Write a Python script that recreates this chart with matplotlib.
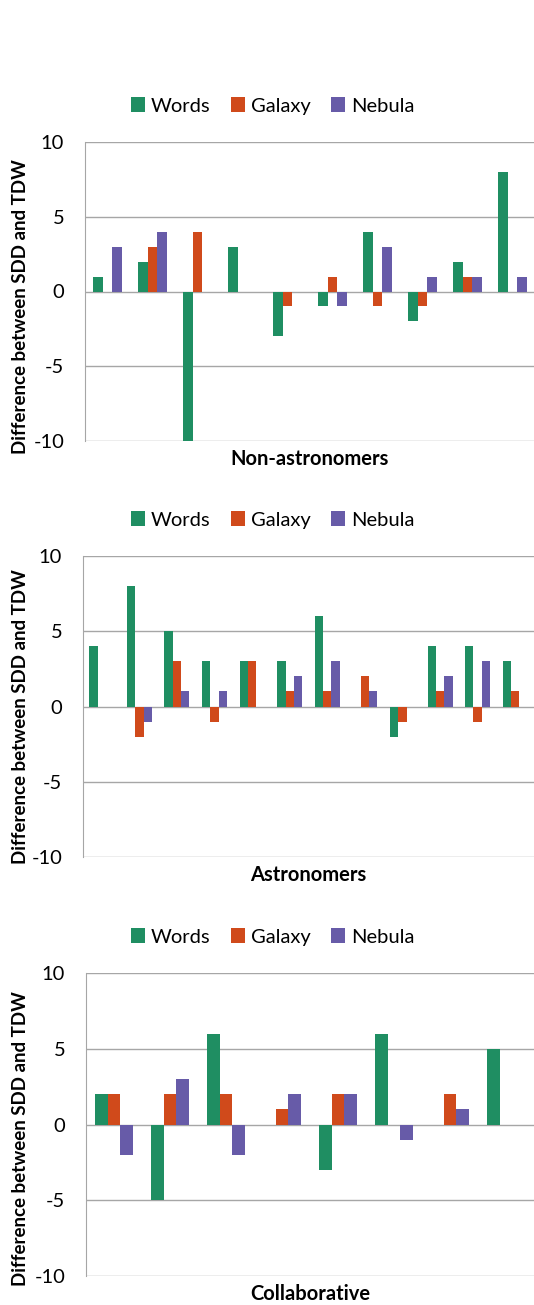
import numpy as np
import matplotlib.pyplot as plt
from matplotlib.patches import Patch

# Values, one list per series and panel
series = ["Words", "Galaxy", "Nebula"]
colors = ["#1f8e62", "#d04a1b", "#675ba8"]

non_words = [1, 2, -10, 3, -3, -1, 4, -2, 2, 8]
non_galaxy = [0, 3, 4, 0, -1, 1, -1, -1, 1, 0]
non_nebula = [3, 4, 0, 0, 0, -1, 3, 1, 1, 1]

ast_words = [4, 8, 5, 3, 3, 3, 6, 0, -2, 4, 4, 3]
ast_galaxy = [0, -2, 3, -1, 3, 1, 1, 2, -1, 1, -1, 1]
ast_nebula = [0, -1, 1, 1, 0, 2, 3, 1, 0, 2, 3, 0]

col_words = [2, -5, 6, 0, -3, 6, 0, 5]
col_galaxy = [2, 2, 2, 1, 2, 0, 2, 0]
col_nebula = [-2, 3, -2, 2, 2, -1, 1, 0]

# title, data, axes rect in pixels (left, top, right, bottom), legend y, ylabel y
panels = [
    ("Non-astronomers", [non_words, non_galaxy, non_nebula],
     (85, 142, 535, 441), 106, 0.45),
    ("Astronomers", [ast_words, ast_galaxy, ast_nebula],
     (83, 556, 534, 857), 520, 0.465),
    ("Collaborative", [col_words, col_galaxy, col_nebula],
     (86, 973, 534, 1276), 937, 0.452),
]

W, H = 534, 1305
plt.rcParams['font.family'] = ['Lato', 'DejaVu Sans']

fig = plt.figure(figsize=(W / 100, H / 100), dpi=100)

for title, data, (l, t, r, b), leg_y, ylab_y in panels:
    ax = fig.add_axes([l / W, 1 - b / H, (r - l) / W, (b - t) / H])
    n = len(data[0])
    x = np.arange(n)
    w = 0.222
    for k, (vals, c) in enumerate(zip(data, colors)):
        ax.bar(x + (k - 1) * w, vals, width=w, color=c, zorder=3)
    ax.set_xlim(-0.5, n - 0.5)
    ax.set_ylim(-10, 10)
    ax.set_yticks([-10, -5, 0, 5, 10])
    ax.set_yticklabels(["-10", "-5", "0", "5", "10"], fontsize=14.5)
    ax.set_xticks([])
    ax.yaxis.grid(True, color="#a6a6a6", linewidth=1, zorder=0)
    ax.tick_params(axis="y", length=0, pad=15)
    for s in ["top", "right", "bottom"]:
        ax.spines[s].set_visible(False)
    ax.spines["left"].set_color("#a6a6a6")
    ax.set_xlabel(title, fontsize=14.5, fontweight="bold", labelpad=6)
    ax.set_ylabel("Difference between SDD and TDW", fontsize=13.5,
                  fontweight="bold")
    ax.yaxis.set_label_coords((29 - l) / (r - l), ylab_y)
    handles = [Patch(facecolor=c, label=s) for s, c in zip(series, colors)]
    fig.legend(handles=handles, loc="center", bbox_to_anchor=(0.51, 1 - leg_y / H),
               ncol=3, frameon=False, fontsize=14.5, handlelength=0.7,
               handleheight=0.7, handletextpad=0.3, columnspacing=1.0)

fig.savefig("out.png", dpi=100)
